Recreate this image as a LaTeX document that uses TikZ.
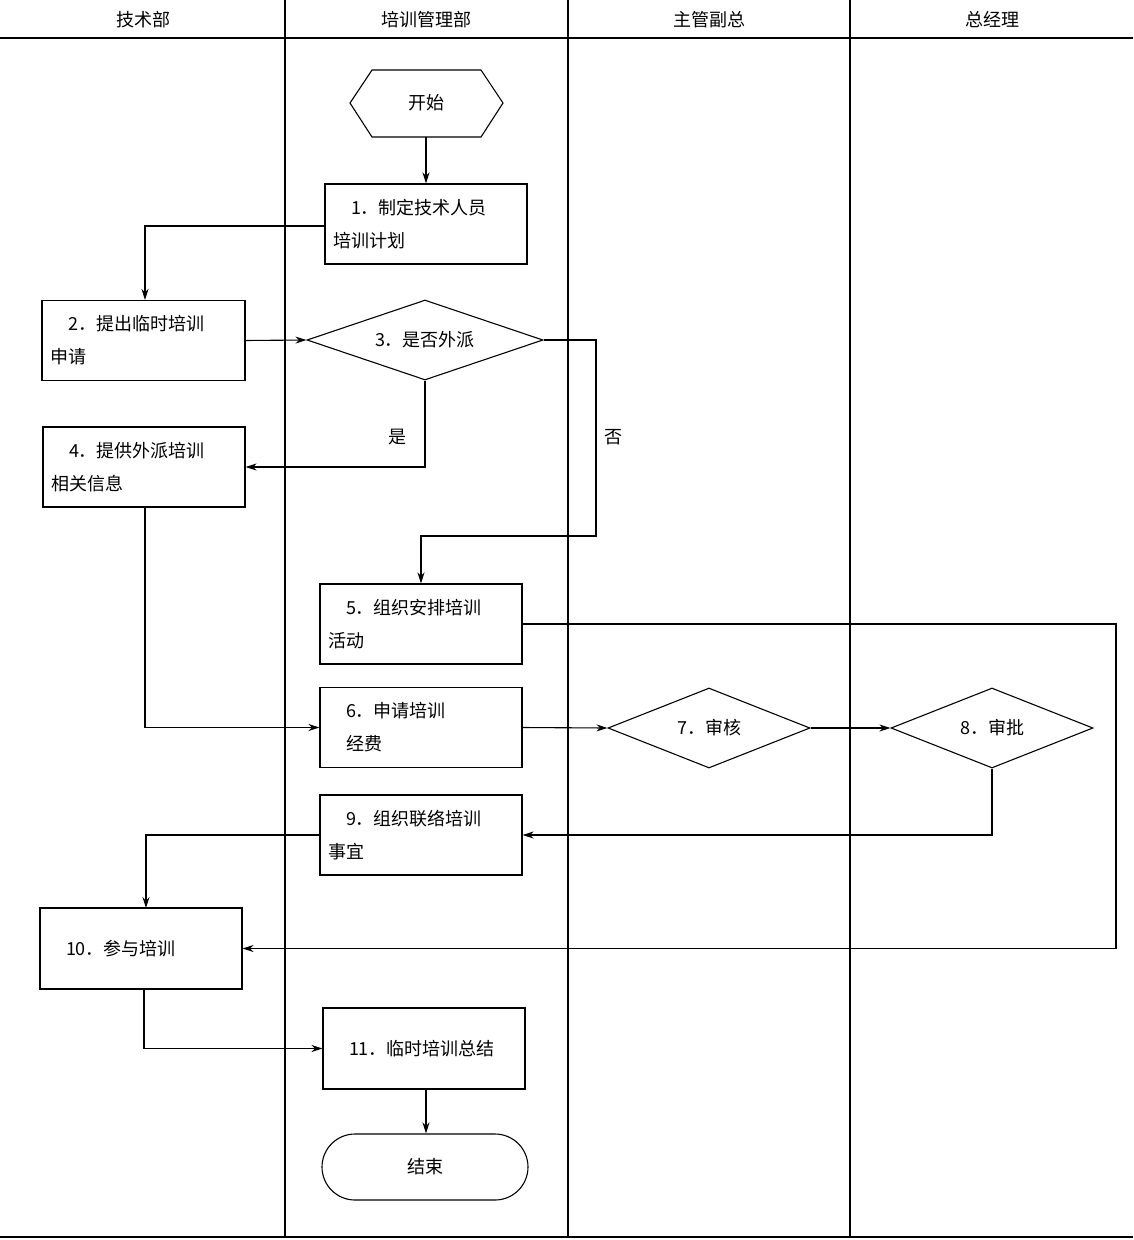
\documentclass[tikz,border=0pt]{standalone}
\usepackage{fontspec}
\setmainfont{Noto Sans CJK SC}
\usetikzlibrary{arrows.meta,shapes.geometric}
\begin{document}
\begin{tikzpicture}[x=1pt,y=-1pt,line width=1.1pt,
  every node/.style={font=\fontsize{18}{33}\selectfont},
  box/.style={draw,minimum width=202pt,minimum height=80pt,inner sep=0pt},
  btxt/.style={text width=186pt,align=left},
  dia/.style={draw,diamond,aspect=2.6,minimum width=236pt,minimum height=80pt,inner sep=0pt},
  dia2/.style={draw,diamond,aspect=2.5,minimum width=202pt,minimum height=80pt,inner sep=0pt},
  arr/.style={-{Stealth[length=11pt,width=7pt]}},
  lane/.style={line width=1.1pt}]
\useasboundingbox (0,0) rectangle (1133,1240);
% lanes
\draw[lane] (0,38) -- (1133,38);
\draw[lane] (0,1237) -- (1133,1237);
\foreach \x in {285,568,850} \draw[lane] (\x,0) -- (\x,1237);
\node (h1) at (143,20) {技术部};
\node (h2) at (426,20) {培训管理部};
\node (h3) at (709,20) {主管副总};
\node (h4) at (992,20) {总经理};
% start hexagon
\draw (350,103) -- (372,70) -- (481,70) -- (503,103) -- (481,137) -- (372,137) -- cycle;
\node (s) at (426,103) {开始};
\coordinate (sb) at (426,137);
\node[box] (n1) at (426,224) {};
\node[btxt] at (n1) {\hspace*{1em}1．制定技术人员\\培训计划};
\node[box,minimum width=203pt] (n2) at (143.5,340.5) {};
\node[btxt] at (n2) {\hspace*{1em}2．提出临时培训\\申请};
\node[dia] (d3) at (425,340) {3．是否外派};
\node[box] (n4) at (144,467) {};
\node[btxt] at (n4) {\hspace*{1em}4．提供外派培训\\相关信息};
\node[box] (n5) at (421,624) {};
\node[btxt] at (n5) {\hspace*{1em}5．组织安排培训\\活动};
\node[box] (n6) at (421,727.5) {};
\node[btxt] at (n6) {\hspace*{1em}6．申请培训\\\hspace*{1em}经费};
\node[dia2] (d7) at (709,728) {7．审核};
\node[dia2] (d8) at (992,728) {8．审批};
\node[box] (n9) at (421,835) {};
\node[btxt] at (n9) {\hspace*{1em}9．组织联络培训\\事宜};
\node[box,minimum height=81pt] (n10) at (141,948.5) {};
\node[btxt] at (n10) {\hspace*{1em}10．参与培训};
\node[box,minimum height=81pt] (n11) at (424,1048.5) {};
\node[btxt] at (n11) {\hspace*{1em}11．临时培训总结};
\node[draw,rounded corners=33pt,minimum width=206pt,minimum height=66pt] (e) at (425,1167) {结束};
% connectors
\draw[arr] (sb) -- (n1.north);
\draw[arr] (325,226) -| (n2.north -| 145,0);
\draw[arr] (n2.east) -- (d3.west);
\draw[arr] (d3.south) |- (n4.east);
\node (yes) at (397,437) {是};
\draw[arr] (d3.east) -- (596,340) -- (596,536) -| (n5.north);
\node (no) at (613,437) {否};
\draw[arr] (n5.east) -- (1116,624) |- (n10.east);
\draw[arr] (n4.south -| 145,0) |- (n6.west);
\draw[arr] (n6.east) -- (d7.west);
\draw[arr] (d7.east) -- (d8.west);
\draw[arr] (d8.south) |- (n9.east);
\draw[arr] (n9.west) -| (146,908);
\draw[arr] (144,989) |- (n11.west);
\draw[arr] (n11.south -| 426,0) -- (e.north -| 426,0);
\end{tikzpicture}
\end{document}
